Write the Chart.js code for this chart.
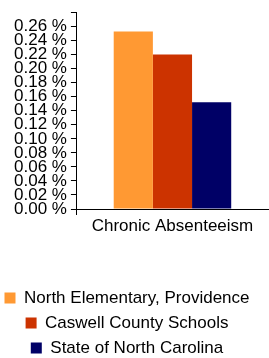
<!DOCTYPE html>
<html>
<head>
<meta charset="utf-8">
<title>Chronic Absenteeism</title>
<script src="https://cdn.jsdelivr.net/npm/chart.js@4/dist/chart.umd.min.js"></script>
<style>
  html, body { margin: 0; padding: 0; background: #fff; }
  #wrap { width: 269px; height: 358px; }
</style>
</head>
<body>
<div id="wrap"><canvas id="chart" width="269" height="358"></canvas></div>
<script>
// data
const categories = ['Chronic Absenteeism'];
const seriesNames = ['North Elementary, Providence', 'Caswell County Schools', 'State of North Carolina'];
const seriesValues = [[0.253], [0.22], [0.152]];
const seriesColors = ['#FF9933', '#CC3300', '#000066'];
const yTicks = [0, 0.02, 0.04, 0.06, 0.08, 0.10, 0.12, 0.14, 0.16, 0.18, 0.20, 0.22, 0.24, 0.26, 0.28];

const FONT = { family: '"Liberation Sans", Arial, sans-serif', size: 17 };

// legend sits a bit lower and left of where chart.js centers it
const legendNudge = {
  id: 'legendNudge',
  afterLayout(chart) {
    const lg = chart.legend;
    if (!lg) return;
    lg.left -= 12; lg.right -= 12;
    lg.top += 8.5; lg.bottom += 8.5;
  }
};

const ctx = document.getElementById('chart').getContext('2d');
new Chart(ctx, {
  type: 'bar',
  data: {
    labels: categories,
    datasets: seriesNames.map((name, i) => ({
      label: name,
      data: seriesValues[i],
      backgroundColor: seriesColors[i],
      borderWidth: 0,
      categoryPercentage: 0.615,
      barPercentage: 1,
    })),
  },
  options: {
    responsive: false,
    animation: false,
    layout: { padding: { left: 10, right: 1, top: 0, bottom: 0 } },
    scales: {
      x: {
        border: { color: '#000', width: 1 },
        grid: {
          drawOnChartArea: false,
          tickLength: 6,
          color: (c) => (c.index === 0 ? '#000' : 'rgba(0,0,0,0)'),
        },
        ticks: { color: '#000', font: FONT, padding: 1 },
        afterFit: (s) => { s.height = 64; },
      },
      y: {
        min: yTicks[0],
        max: yTicks[yTicks.length - 1],
        border: { color: '#000', width: 1 },
        grid: { drawOnChartArea: false, tickLength: 6, color: '#000' },
        afterBuildTicks: (s) => { s.ticks = yTicks.map((v) => ({ value: v })); },
        ticks: {
          color: '#000',
          font: { ...FONT, lineHeight: 1 },
          padding: 4,
          autoSkip: false,
          callback: (v, i, arr) => (i === arr.length - 1 ? '' : Number(v).toFixed(2) + ' %'),
        },
      },
    },
    plugins: {
      tooltip: { enabled: false },
      legend: {
        position: 'bottom',
        labels: { font: FONT, color: '#000', boxWidth: 11, boxHeight: 11, padding: 8 },
      },
    },
  },
  plugins: [legendNudge],
});
</script>
</body>
</html>
